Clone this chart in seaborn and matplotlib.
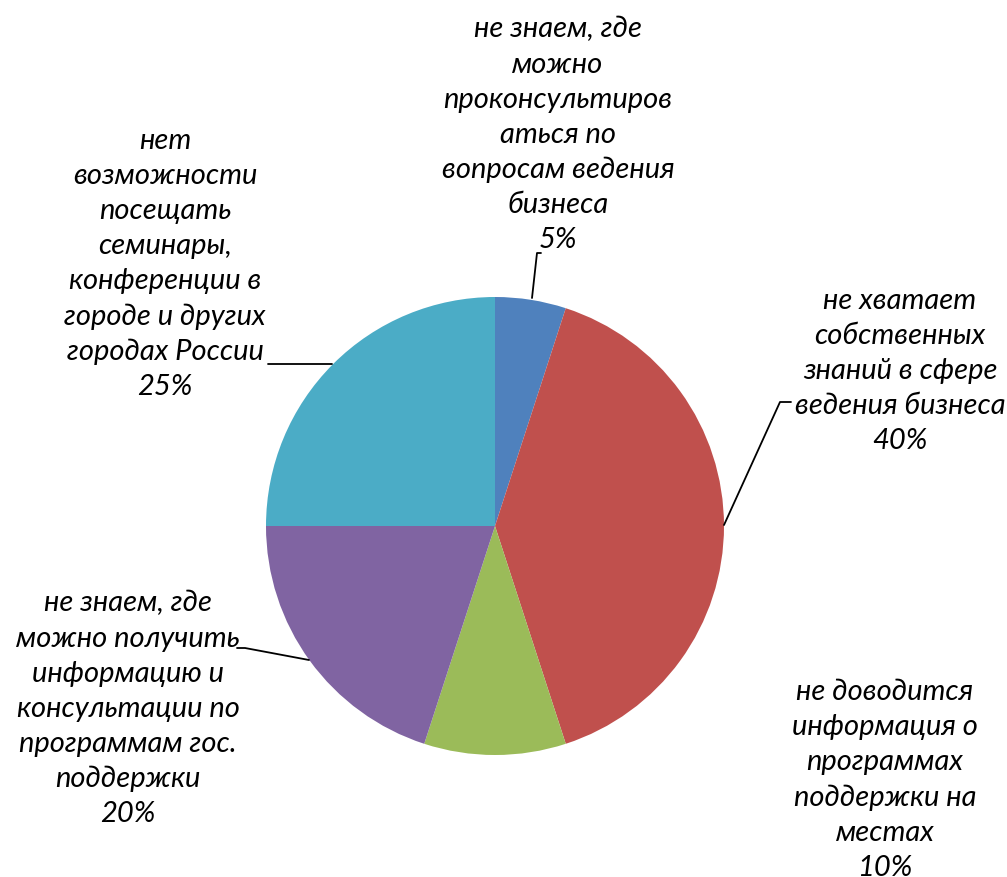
import matplotlib.pyplot as plt
import seaborn as sns

sns.set_style("white")
plt.rcParams["font.family"] = ["Lato", "DejaVu Sans"]

labels = [
    "не знаем, где\nможно\nпроконсультиров\nаться по\nвопросам ведения\nбизнеса",
    "не хватает\nсобственных\nзнаний в сфере\nведения бизнеса",
    "не доводится\nинформация о\nпрограммах\nподдержки на\nместах",
    "не знаем, где\nможно получить\nинформацию и\nконсультации по\nпрограммам гос.\nподдержки",
    "нет\nвозможности\nпосещать\nсеминары,\nконференции в\nгороде и других\nгородах России",
]
shares = [5, 40, 10, 20, 25]
colors = ["#4F81BD", "#C0504D", "#9BBB59", "#8064A2", "#4BACC6"]

# label placement in pixel coordinates (x, y from top)
label_pos = [(558, 135), (900, 371), (885, 780), (128, 709), (165, 264)]
leaders = [
    [(532, 298), (537, 253), (541, 253)],
    [(724, 525), (780, 402), (791, 402)],
    None,
    [(309, 660), (245, 648), (237, 648)],
    [(332, 364), (268, 364)],
]

W, H = 1007, 877
fig = plt.figure(figsize=(W / 100, H / 100), dpi=100)
ax = fig.add_axes([0, 0, 1, 1])

ax.pie(shares, colors=colors, startangle=90, counterclock=False,
       center=(495, H - 526), radius=229, frame=True,
       wedgeprops={"linewidth": 0})
ax.set_xlim(0, W)
ax.set_ylim(0, H)
ax.set_aspect("equal")
ax.axis("off")

for lab, val, (x, y) in zip(labels, shares, label_pos):
    ax.text(x, H - y, f"{lab}\n{val}%", ha="center", va="center",
            multialignment="center", fontsize=21, fontstyle="italic",
            linespacing=1.43, color="black")

for pts in leaders:
    if pts is None:
        continue
    xs = [p[0] for p in pts]
    ys = [H - p[1] for p in pts]
    ax.plot(xs, ys, color="black", lw=1.3)

fig.savefig("out.png", dpi=100)
